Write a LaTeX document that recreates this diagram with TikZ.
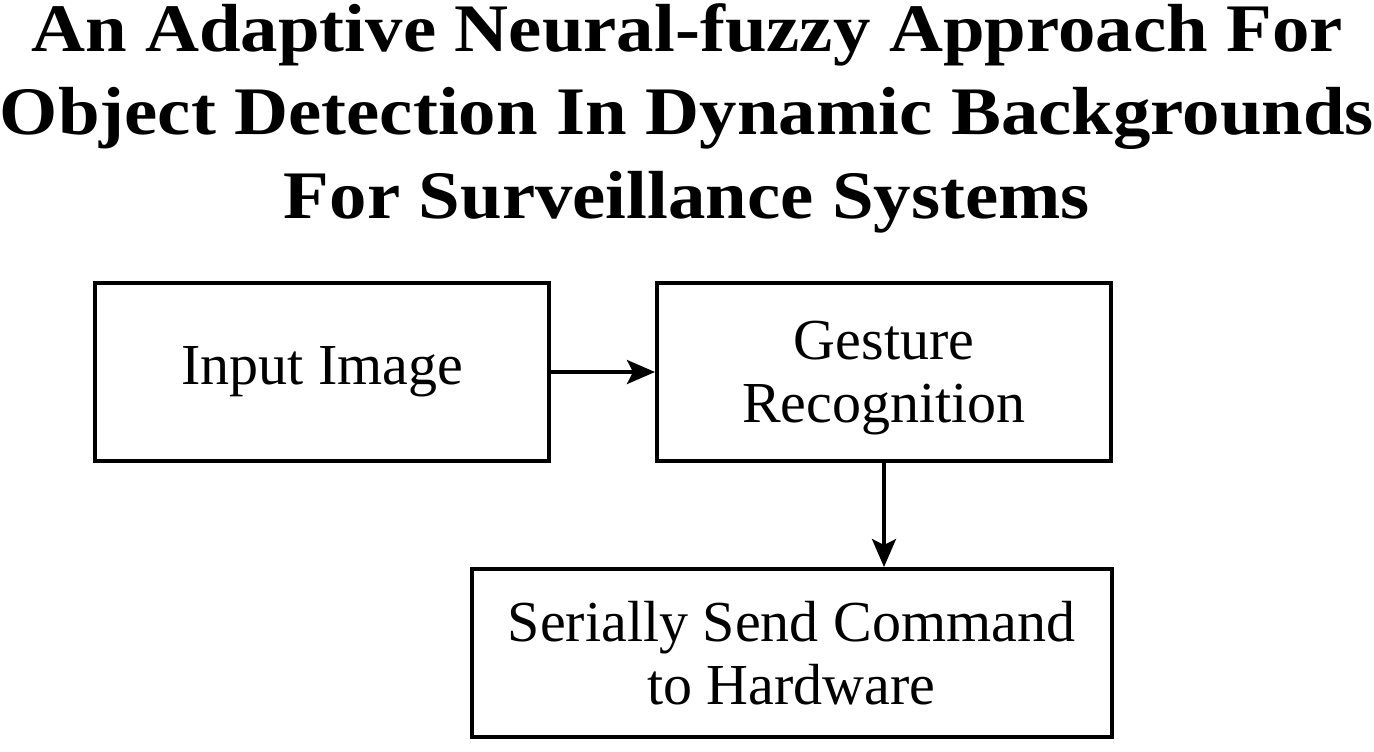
\documentclass[tikz,border=0pt]{standalone}
\usepackage{fontspec}
\setmainfont{Liberation Serif}
\usetikzlibrary{arrows.meta}

\tikzset{
  blockbox/.style={draw=black, line width=2pt, inner sep=0pt, align=center,
    font=\fontsize{29}{31.5}\selectfont},
  stackbox/.style={blockbox, text depth=0pt},
  flowarrow/.style={line width=1.7pt, -{Stealth[length=14pt, width=12pt, inset=3pt]}}
}

\begin{document}
\begin{tikzpicture}[x=0.5pt, y=-0.5pt]
\useasboundingbox (0,0) rectangle (1374,751);
% title
\node[anchor=north, inner sep=0pt, align=center, font=\fontsize{34}{41.75}\selectfont\bfseries\addfontfeatures{FakeStretch=1.1}] (title) at (687,3) {An Adaptive Neural-fuzzy Approach For\\Object Detection In Dynamic Backgrounds\\For Surveillance Systems};
% blocks
\node[blockbox, minimum width=227pt, minimum height=89pt] (input) at (322,372) {Input Image};
\node[stackbox, minimum width=227pt, minimum height=89pt] (gesture) at (884,372) {Gesture\\Recognition};
\node[stackbox, minimum width=320pt, minimum height=84pt] (serial) at (791.5,653) {Serially Send Command\\to Hardware};
% connectors
\draw[flowarrow] (input.east) -- (gesture.west);
\draw[flowarrow] (gesture.south) -- (gesture.south |- serial.north);
\end{tikzpicture}
\end{document}
